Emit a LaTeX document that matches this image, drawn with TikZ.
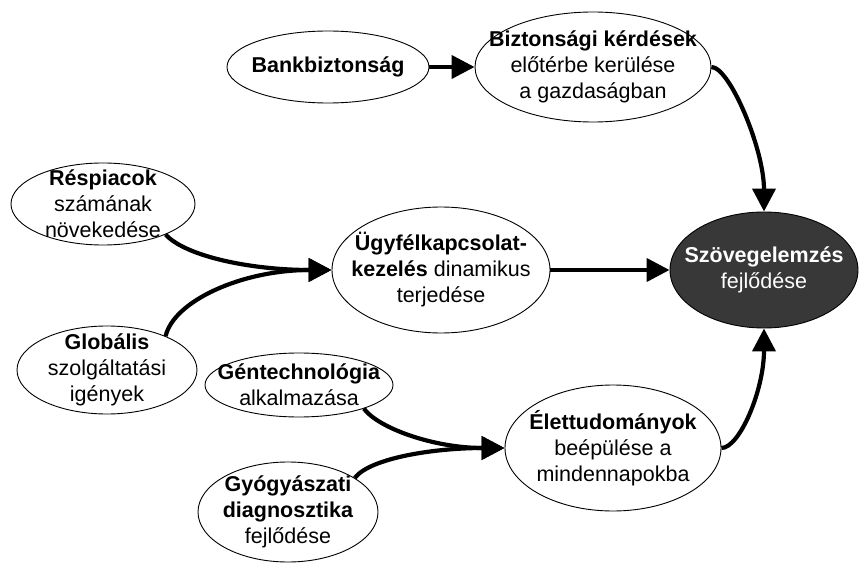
\documentclass[tikz,border=0pt]{standalone}
\usepackage{fontspec}
\setmainfont{Liberation Sans}
\usetikzlibrary{shapes.geometric,arrows.meta}
\begin{document}
\begin{tikzpicture}[x=1pt,y=-1pt,
  ell/.style={ellipse, draw=black, line width=0.9pt, fill=white, inner sep=0pt},
  darkell/.style={ellipse, draw=black, line width=0.9pt, fill=black!78, inner sep=0pt},
  txt/.style={align=center, inner sep=0pt, font=\fontsize{21.5}{26}\selectfont},
  conn/.style={line width=4.2pt, -{Triangle[length=23pt,width=23pt]}}
]
\useasboundingbox (0,0) rectangle (860,564);

\node[ell, minimum width=202pt, minimum height=72pt] (bank) at (328,67) {};
\node[txt] (bank-t) at (bank) {\textbf{Bankbiztonság}};

\node[ell, minimum width=236pt, minimum height=110pt] (bizt) at (593,67) {};
\node[txt] (bizt-t) at (bizt) {\textbf{Biztonsági kérdések}\\előtérbe kerülése\\a gazdaságban};

\node[darkell, minimum width=188pt, minimum height=116pt] (szov) at (764,270) {};
\node[txt, text=white] (szov-t) at (szov) {\textbf{Szövegelemzés}\\fejlődése};

\node[ell, minimum width=184pt, minimum height=82pt] (resp) at (103,204) {};
\node[txt] (resp-t) at (resp) {\textbf{Réspiacok}\\számának\\növekedése};

\node[ell, minimum width=218pt, minimum height=126pt] (ugy) at (441,270) {};
\node[txt] (ugy-t) at (ugy) {\textbf{Ügyfélkapcsolat-}\\\textbf{kezelés} dinamikus\\terjedése};

\node[ell, minimum width=180pt, minimum height=88pt] (glob) at (107,370) {};
\node[txt] (glob-t) at (glob) {\textbf{Globális}\\szolgáltatási\\igények};

\node[ell, minimum width=188pt, minimum height=64pt] (gen) at (299,385) {};
\node[txt] (gen-t) at (gen) {\textbf{Géntechnológia}\\alkalmazása};

\node[ell, minimum width=180pt, minimum height=100pt] (gyog) at (288,512) {};
\node[txt] (gyog-t) at (gyog) {\textbf{Gyógyászati}\\\textbf{diagnosztika}\\fejlődése};

\node[ell, minimum width=216pt, minimum height=126pt] (elet) at (613,448) {};
\node[txt] (elet-t) at (elet) {\textbf{Élettudományok}\\beépülése a\\mindennapokba};

\draw[conn] (bank.east) -- (bizt.west);
\draw[conn] (bizt.east) .. controls +(18,0) and +(0,-63) .. (szov.north);
\draw[conn] (resp.-26) .. controls +(20,22) and +(-80,0) .. (ugy.west);
\draw[conn] (glob.30) .. controls +(8,-35) and +(-90,0) .. (ugy.west);
\draw[conn] (ugy.east) -- (szov.west);
\draw[conn] (gen.-20) .. controls +(15,20) and +(-70,0) .. (elet.west);
\draw[conn] (gyog.27) .. controls +(15,-20) and +(-70,0) .. (elet.west);
\draw[conn] (elet.east) .. controls +(18,0) and +(0,62) .. (szov.south);
\end{tikzpicture}
\end{document}
